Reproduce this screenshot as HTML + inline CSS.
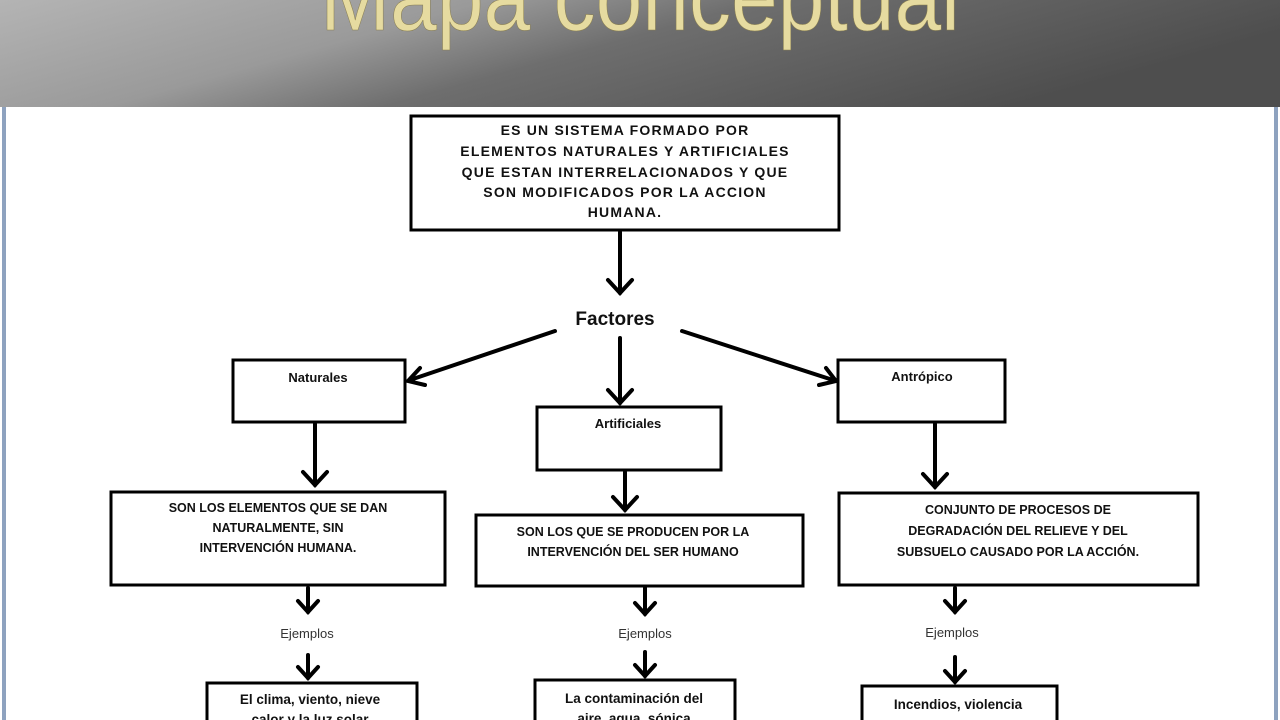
<!DOCTYPE html>
<html><head><meta charset="utf-8"><style>
html,body{margin:0;padding:0;width:1280px;height:720px;overflow:hidden;background:#fff}
</style></head><body>
<svg width="1280" height="720" xmlns="http://www.w3.org/2000/svg" style="display:block">
<defs>
<linearGradient id="hg" x1="0" y1="0" x2="1" y2="0.3">
<stop offset="0" stop-color="#b4b4b4"/><stop offset="0.35" stop-color="#9a9a9a"/><stop offset="0.55" stop-color="#6e6e6e"/><stop offset="1" stop-color="#4e4e4e"/>
</linearGradient>
</defs>
<rect x="0" y="0" width="1280" height="107" fill="url(#hg)"/>
<text x="640" y="26" text-anchor="middle" font-family="Liberation Sans, sans-serif" font-size="84" fill="#e6dba0" stroke="#8a7f50" stroke-width="0.5" transform="translate(640,0) scale(1,1.15) translate(-640,0)">Mapa conceptual</text>
<rect x="0" y="107" width="1280" height="613" fill="#fff"/>
<rect x="2" y="107" width="4" height="613" fill="#8ea2bf"/>
<rect x="1274" y="107" width="4" height="613" fill="#8ea2bf"/>
<g fill="none" stroke="#000" stroke-width="3">
<rect x="411" y="116" width="428" height="114"/>
<rect x="233" y="360" width="172" height="62"/>
<rect x="537" y="407" width="184" height="63"/>
<rect x="838" y="360" width="167" height="62"/>
<rect x="111" y="492" width="334" height="93"/>
<rect x="476" y="515" width="327" height="71"/>
<rect x="839" y="493" width="359" height="92"/>
<rect x="207" y="683" width="210" height="60"/>
<rect x="535" y="680" width="200" height="60"/>
<rect x="862" y="686" width="195" height="60"/>
</g>
<g fill="none" stroke="#000" stroke-width="4" stroke-linecap="round">
<line x1="620" y1="232" x2="620" y2="293"/><polyline points="608,280 620,293 632,280"/>
<line x1="555" y1="331" x2="410" y2="380"/><polyline points="420,368 408,381 425,385"/>
<line x1="620" y1="338" x2="620" y2="403"/><polyline points="608,390 620,403 632,390"/>
<line x1="682" y1="331" x2="836" y2="381"/><polyline points="819,385 836,381 826,368"/>
<line x1="315" y1="424" x2="315" y2="485"/><polyline points="303,472 315,485 327,472"/>
<line x1="625" y1="472" x2="625" y2="510"/><polyline points="613,497 625,510 637,497"/>
<line x1="935" y1="424" x2="935" y2="487"/><polyline points="923,474 935,487 947,474"/>
<line x1="308" y1="588" x2="308" y2="612"/><polyline points="298,601 308,612 318,601"/>
<line x1="645" y1="588" x2="645" y2="614"/><polyline points="635,603 645,614 655,603"/>
<line x1="955" y1="588" x2="955" y2="612"/><polyline points="945,601 955,612 965,601"/>
<line x1="308" y1="655" x2="308" y2="678"/><polyline points="298,667 308,678 318,667"/>
<line x1="645" y1="652" x2="645" y2="676"/><polyline points="635,665 645,676 655,665"/>
<line x1="955" y1="657" x2="955" y2="682"/><polyline points="945,671 955,682 965,671"/>
</g>
<g font-family="Liberation Sans, sans-serif" font-weight="bold" fill="#111" text-anchor="middle">
<g font-size="14" letter-spacing="1.2">
<text x="625" y="135">ES UN SISTEMA FORMADO POR</text>
<text x="625" y="156">ELEMENTOS NATURALES Y ARTIFICIALES</text>
<text x="625" y="177">QUE ESTAN INTERRELACIONADOS Y QUE</text>
<text x="625" y="197">SON MODIFICADOS POR LA ACCION</text>
<text x="625" y="217">HUMANA.</text>
</g>
<text x="615" y="325" font-size="19">Factores</text>
<g font-size="13" font-weight="bold">
<text x="318" y="382">Naturales</text>
<text x="628" y="428">Artificiales</text>
<text x="922" y="381">Antrópico</text>
</g>
<g font-size="12.5">
<text x="278" y="512">SON LOS ELEMENTOS QUE SE DAN</text>
<text x="278" y="532">NATURALMENTE,  SIN</text>
<text x="278" y="552">INTERVENCIÓN HUMANA.</text>
<text x="633" y="536">SON LOS QUE SE PRODUCEN POR LA</text>
<text x="633" y="556">INTERVENCIÓN DEL SER HUMANO</text>
<text x="1018" y="514">CONJUNTO DE PROCESOS DE</text>
<text x="1018" y="535">DEGRADACIÓN DEL RELIEVE  Y DEL</text>
<text x="1018" y="556">SUBSUELO CAUSADO POR LA ACCIÓN.</text>
</g>
<g font-size="13" font-weight="normal" fill="#333">
<text x="307" y="638">Ejemplos</text>
<text x="645" y="638">Ejemplos</text>
<text x="952" y="637">Ejemplos</text>
</g>
<g font-size="13.5">
<text x="310" y="704">El clima, viento, nieve</text>
<text x="310" y="724">calor y la luz solar</text>
<text x="634" y="703">La contaminación del</text>
<text x="634" y="723">aire, agua, sónica</text>
<text x="958" y="709">Incendios, violencia</text>
</g>
</g>
</svg>
</body></html>
